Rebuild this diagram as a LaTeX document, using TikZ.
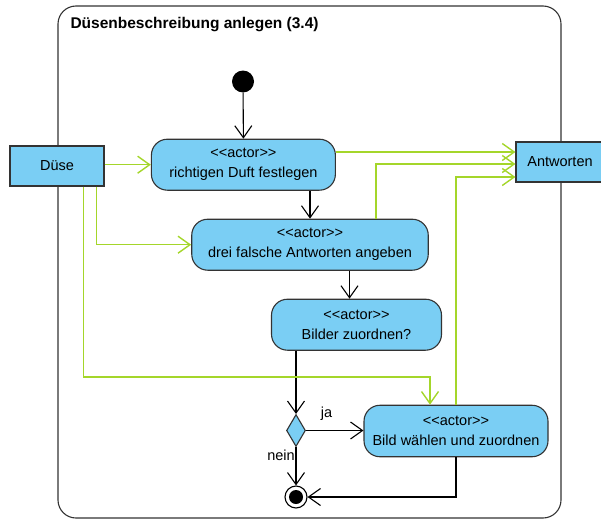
\documentclass[tikz,border=0pt]{standalone}
\usepackage{fontspec}
\setmainfont{Liberation Sans}
\usetikzlibrary{arrows.meta,shapes.geometric}
\definecolor{actfill}{HTML}{7ACEF4}
\definecolor{flowgreen}{HTML}{A4D62A}
\definecolor{edge}{HTML}{333333}
\newcommand{\stereo}[1]{<{}<#1>{}>}
\tikzset{
  every node/.style={font=\fontsize{14.5}{20}\selectfont},
  action/.style={draw=edge, line width=1.1pt, fill=actfill, rectangle,
    rounded corners=16pt, align=center, inner sep=0pt},
  objbox/.style={draw=edge, line width=1.1pt, fill=actfill, rectangle, inner sep=0pt},
  vtip/.style={-{Straight Barb[length=12pt,width=17pt,line width=1.1pt]}},
  ctrl/.style={draw=black, line width=1.1pt, vtip},
  objflow/.style={draw=flowgreen, line width=1.5pt,
    -{Straight Barb[length=12pt,width=17pt,line width=1.4pt]}},
}
\begin{document}
\begin{tikzpicture}[x=1pt,y=-1pt]
  \useasboundingbox (0,0) rectangle (601,519);
  \begin{scope}
  \clip (0,0) rectangle (601,519);

  % activity frame
  \draw[edge, line width=1.1pt, rounded corners=18pt] (58,6) rectangle (561,518);
  \node[anchor=west, font=\bfseries\fontsize{15.5}{17}\selectfont] (title) at (67,25)
    {Düsenbeschreibung anlegen (3.4)};

  % object nodes
  \node[objbox, minimum width=94pt, minimum height=40pt] (duese) at (57,166) {Düse};
  \node[objbox, minimum width=88pt, minimum height=40pt] (antw) at (560,162) {Antworten};

  % actions
  \node[action, minimum width=184pt, minimum height=51pt] (a1) at (243.4,164.7)
    {\stereo{actor}\\richtigen Duft festlegen};
  \node[action, minimum width=236.5pt, minimum height=51pt] (a2) at (310,244.7)
    {\stereo{actor}\\drei falsche Antworten angeben};
  \node[action, minimum width=170pt, minimum height=51pt] (a3) at (356.5,324.7)
    {\stereo{actor}\\Bilder zuordnen?};
  \node[action, minimum width=184pt, minimum height=51.5pt] (bild) at (456,431)
    {\stereo{actor}\\Bild wählen und zuordnen};

  % control nodes
  \node[circle, fill=black, minimum size=22pt, inner sep=0pt] (start) at (243,81.5) {};
  \node[diamond, draw=edge, line width=1.1pt, fill=actfill, inner sep=0pt,
        minimum width=19pt, minimum height=32pt] (dec) at (296,430.5) {};
  \node[circle, draw=black, line width=1.1pt, fill=white, minimum size=22pt,
        inner sep=0pt] (final) at (296,497) {};
  \node[circle, fill=black, minimum size=14pt, inner sep=0pt] (finalin) at (final) {};

  % bend points of the object flow to the last action
  \coordinate (gA) at (83.3,377);
  \coordinate (gB) at (430,377);

  % control flow
  \draw[ctrl] (start) -- (a1.north);
  \draw[ctrl] (a2.north |- a1.south) -- (a2.north);
  \draw[ctrl] ([xshift=-7pt]a3.north |- a2.south) -- ([xshift=-7pt]a3.north);
  \draw[ctrl] (dec.north |- a3.south) -- (dec.north);
  \draw[ctrl] (dec.east) -- (dec.east -| bild.west);
  \draw[ctrl] (dec.south) -- (final.north);
  \draw[ctrl] (bild.south) |- (final.east);
  \node (ja) at (326.6,414) {ja};
  \node (nein) at (281,455) {nein};

  % object flow
  \draw[objflow] (duese.east |- a1.west) -- (a1.west);
  \draw[objflow] ([xshift=39.7pt]duese.south) |- (a2.west);
  \draw[objflow] ([xshift=26.3pt]duese.south) -- (gA) -- (gB) -- (gB |- bild.north);
  \draw[objflow] ([yshift=12.7pt]a1.east) -- ([yshift=10pt]antw.west);
  \draw[objflow] ([xshift=66pt]a2.north) |- ([yshift=-2pt]antw.west);
  \draw[objflow] (bild.north) |- ([yshift=-15pt]antw.west);
  \end{scope}
\end{tikzpicture}
\end{document}
